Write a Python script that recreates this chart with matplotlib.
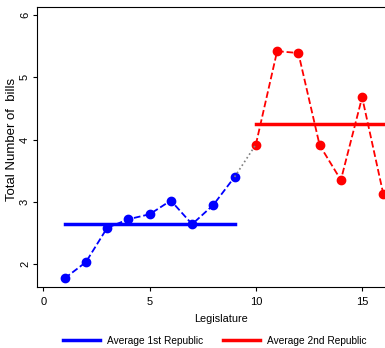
import matplotlib.pyplot as plt
from matplotlib.lines import Line2D

plt.rcParams['font.family'] = ['Liberation Sans', 'DejaVu Sans']

leg1 = [1, 2, 3, 4, 5, 6, 7, 8, 9]
bills1 = [1.77, 2.03, 2.58, 2.72, 2.80, 3.02, 2.64, 2.95, 3.40]
leg2 = [10, 11, 12, 13, 14, 15, 16]
bills2 = [3.92, 5.42, 5.39, 3.91, 3.35, 4.68, 3.12]
avg1 = 2.65
avg2 = 4.25

fig = plt.figure(figsize=(3.85, 3.48), dpi=100)
ax = fig.add_axes([0.096, 0.175, 0.955, 0.805])

ax.plot(leg1, bills1, 'o--', color='blue', markersize=6, linewidth=1.3)
ax.plot(leg2, bills2, 'o--', color='red', markersize=6, linewidth=1.3)
ax.plot([leg1[-1], leg2[0]], [bills1[-1], bills2[0]], ':', color='gray', linewidth=1.2)
ax.plot([leg1[0], leg1[-1]], [avg1, avg1], color='blue', linewidth=2.5)
ax.plot([leg2[0], leg2[-1]], [avg2, avg2], color='red', linewidth=2.5)

ax.set_xlim(-0.3, 17.0)
ax.set_ylim(1.63, 6.13)
ax.set_xticks([0, 5, 10, 15])
ax.set_yticks([2, 3, 4, 5, 6])
ax.tick_params(axis='x', labelsize=8, length=3, pad=4)
ax.tick_params(axis='y', labelsize=8, length=3, pad=2)
for lab in ax.get_yticklabels():
    lab.set_rotation(90)
    lab.set_va('center')
ax.set_xlabel('Legislature', fontsize=7.8, labelpad=5)
ax.set_ylabel('Total Number of  bills', fontsize=9.5)
ax.yaxis.set_label_coords(-0.052, 0.527)

handles = [Line2D([], [], color='blue', linewidth=2.5),
           Line2D([], [], color='red', linewidth=2.5)]
fig.legend(handles, ['Average 1st Republic', 'Average 2nd Republic'],
           loc='center left', bbox_to_anchor=(0.14, 0.02), ncol=2,
           frameon=False, fontsize=7.3, handlelength=3.6, handletextpad=0.7,
           columnspacing=2.0)

fig.savefig('out.png', dpi=100)
